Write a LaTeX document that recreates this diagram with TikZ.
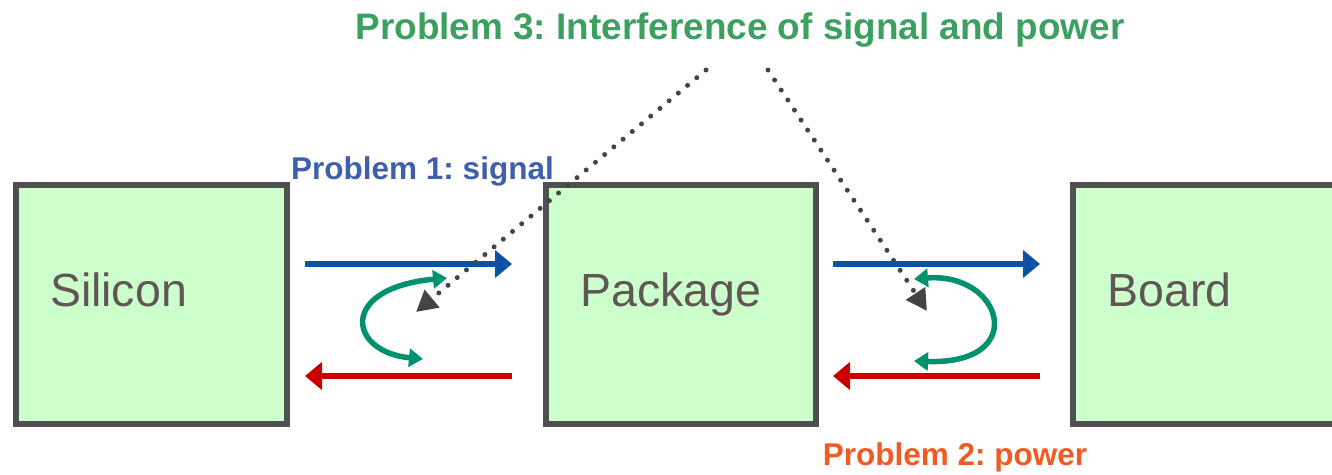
\documentclass[tikz,border=0pt]{standalone}
\usepackage{fontspec}
\setmainfont{Liberation Sans}
\usetikzlibrary{arrows.meta}
\definecolor{boxfill}{RGB}{204,255,204}
\definecolor{boxline}{RGB}{80,80,80}
\definecolor{lblcol}{RGB}{96,86,86}
\definecolor{sigblue}{RGB}{11,82,165}
\definecolor{pwrred}{RGB}{204,0,0}
\definecolor{tealarr}{RGB}{0,145,110}
\definecolor{dotgray}{RGB}{68,68,68}
\definecolor{ptgreen}{RGB}{60,160,96}
\definecolor{poblue}{RGB}{63,95,170}
\definecolor{ptorange}{RGB}{240,90,35}
\frenchspacing
\begin{document}
\begin{tikzpicture}[x=1pt,y=-1pt,
  blockbox/.style={draw=boxline, fill=boxfill, line width=6pt, minimum width=#1, minimum height=239pt, inner sep=0pt},
  boxlabel/.style={text=lblcol, inner sep=0pt, anchor=base, font=\fontsize{46.5}{56}\selectfont},
  flowarrow/.style={line width=6pt, -{Triangle[length=17pt,width=27pt]}},
  sigarrow/.style={flowarrow, draw=sigblue, fill=sigblue},
  pwrarrow/.style={flowarrow, draw=pwrred, fill=pwrred},
  couplearrow/.style={line width=5.5pt, draw=tealarr, {Triangle[length=14pt,width=18pt]}-{Triangle[length=14pt,width=18pt]}},
  dotline/.style={draw=dotgray, line width=5pt, line cap=round, dash pattern=on 0pt off 12pt, -{Triangle[length=21pt,width=22pt]}},
  problabel/.style={inner sep=0pt, anchor=base, font=\bfseries\fontsize{31.5}{38}\selectfont}
]
\useasboundingbox (0,0) rectangle (1332,474);
\clip (0,0) rectangle (1332,474);

% boxes
\node[blockbox=271pt] (sil) at (151.5,304.5) {};
\node[blockbox=270pt] (pkg) at (681,304.5) {};
\node[blockbox=330pt] (brd) at (1238,304.5) {};
\node[boxlabel] (silt) at (118.5,306) {Silicon};
\node[boxlabel] (pkgt) at (671,306) {Package};
\node[boxlabel] (brdt) at (1169.5,306) {Board};

% flow arrows
\coordinate (s1a) at (305,264); \coordinate (s1b) at (512,264);
\coordinate (s2a) at (833,264); \coordinate (s2b) at (1040,264);
\coordinate (p1a) at (512,376); \coordinate (p1b) at (305,376);
\coordinate (p2a) at (1040,376); \coordinate (p2b) at (833,376);
\draw[sigarrow] (s1a) -- (s1b);
\draw[sigarrow] (s2a) -- (s2b);
\draw[pwrarrow] (p1a) -- (p1b);
\draw[pwrarrow] (p2a) -- (p2b);

% coupling arrows
\coordinate (c1a) at (423,359); \coordinate (c1b) at (447,278);
\coordinate (c2a) at (914,279); \coordinate (c2b) at (914,361);
\draw[couplearrow] (c1a) .. controls (348,352) and (338,288) .. (c1b);
\draw[couplearrow] (c2a) .. controls (1003,272) and (1030,365) .. (c2b);

% dotted pointers
\coordinate (d1a) at (706,70); \coordinate (d1b) at (416,312);
\coordinate (d2a) at (768,70); \coordinate (d2b) at (927,311);
\draw[dotline] (d1a) -- (d1b);
\draw[dotline] (d2a) -- (d2b);

% problem labels
\node[problabel, text=ptgreen, font=\bfseries\fontsize{36.9}{44}\selectfont] (p3) at (740,39) {Problem 3: Interference of signal and power};
\node[problabel, text=poblue] (p1) at (422.5,179) {Problem 1: signal};
\node[problabel, text=ptorange] (p2) at (955,465) {Problem 2: power};
\end{tikzpicture}
\end{document}
